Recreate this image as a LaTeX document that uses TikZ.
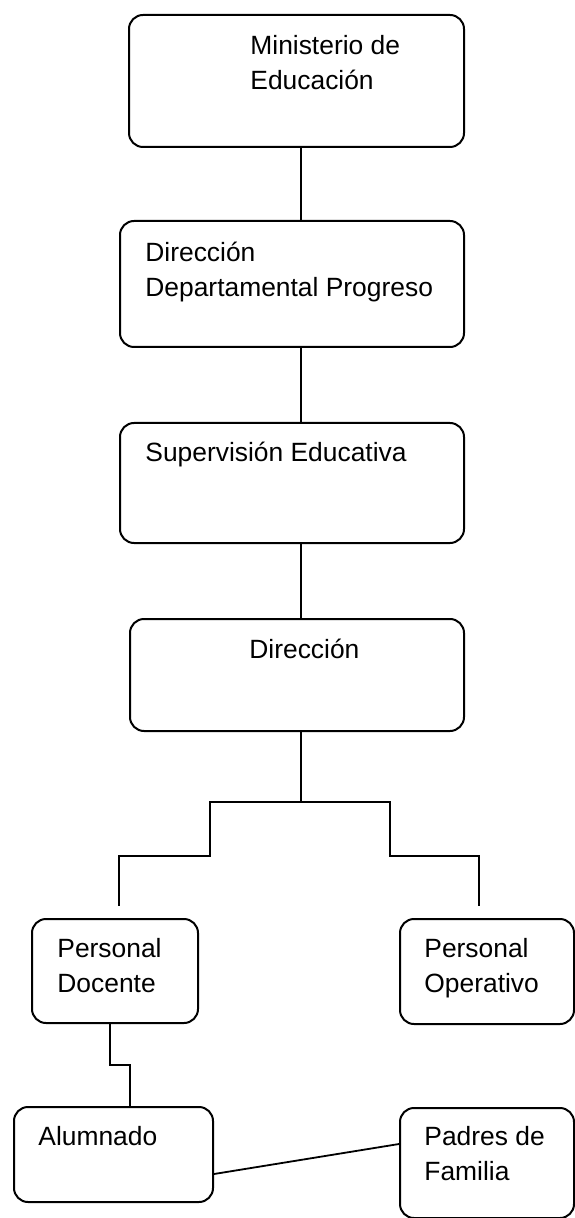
\documentclass[tikz,border=0pt]{standalone}
\usepackage{fontspec}
\setmainfont{Liberation Sans}
\usepackage{tikz}
\usetikzlibrary{positioning}

\begin{document}
\begin{tikzpicture}[
      x=0.5pt, y=-0.5pt,
      box/.style={draw, line width=1pt, rounded corners=7pt, anchor=north west, inner sep=0pt},
      txt/.style={anchor=base west, inner sep=0pt, align=left, font=\fontsize{13.2pt}{17.5pt}\selectfont},
      link/.style={draw, line width=0.9pt}
    ]
    \useasboundingbox (0,0) rectangle (574,1218);

    % Upper chain
    \node[box, minimum width=167.5pt, minimum height=66pt] (min) at (128,14) {};
    \node[box, minimum width=172pt, minimum height=63pt] (ddp) at (119,220) {};
    \node[box, minimum width=172pt, minimum height=60pt] (sup) at (119,422) {};
    \node[box, minimum width=167pt, minimum height=56pt] (dir) at (129,618) {};

    % text sits on the baseline of its last line
    \node[txt] (min-t) at (250,90) {Ministerio de\\Educación};
    \node[txt] (ddp-t) at (145,297) {Dirección\\Departamental Progreso};
    \node[txt] (sup-t) at (145,462) {Supervisión Educativa};
    \node[txt] (dir-t) at (249,658) {Dirección};

    % Lower boxes
    \node[box, minimum width=83pt, minimum height=52pt] (doc) at (31,918) {};
    \node[box, minimum width=87pt, minimum height=52.5pt] (ope) at (399,918) {};
    \node[box, minimum width=99.5pt, minimum height=47.5pt] (alu) at (13,1106) {};
    \node[box, minimum width=87pt, minimum height=55pt] (pad) at (399,1107) {};

    \node[txt] (doc-t) at (57,992) {Personal\\Docente};
    \node[txt] (ope-t) at (424,992) {Personal\\Operativo};
    \node[txt] (alu-t) at (38,1145) {Alumnado};
    \node[txt] (pad-t) at (424,1180) {Padres de\\Familia};

    % Spine
    \coordinate (spine) at (301,0);
    \draw[link] (min.south -| spine) -- (ddp.north -| spine);
    \draw[link] (ddp.south -| spine) -- (sup.north -| spine);
    \draw[link] (sup.south -| spine) -- (dir.north -| spine);

    % Branches
    \coordinate (fork) at (301,802);
    \coordinate (doc-in) at (119,906);
    \coordinate (ope-in) at (479,906);
    \draw[link] (dir.south -| spine) -- (fork);
    \draw[link] (fork) -| (210,856) -| (doc-in);
    \draw[link] (fork) -| (390,856) -| (ope-in);

    \draw[link] ([xshift=-2.5pt]doc.south) -- ++(0,41) -| ([xshift=8.25pt]alu.north);
    \draw[link] ([yshift=-9.75pt]alu.east) -- ([yshift=9.5pt]pad.west);

  \end{tikzpicture}
\end{document}
